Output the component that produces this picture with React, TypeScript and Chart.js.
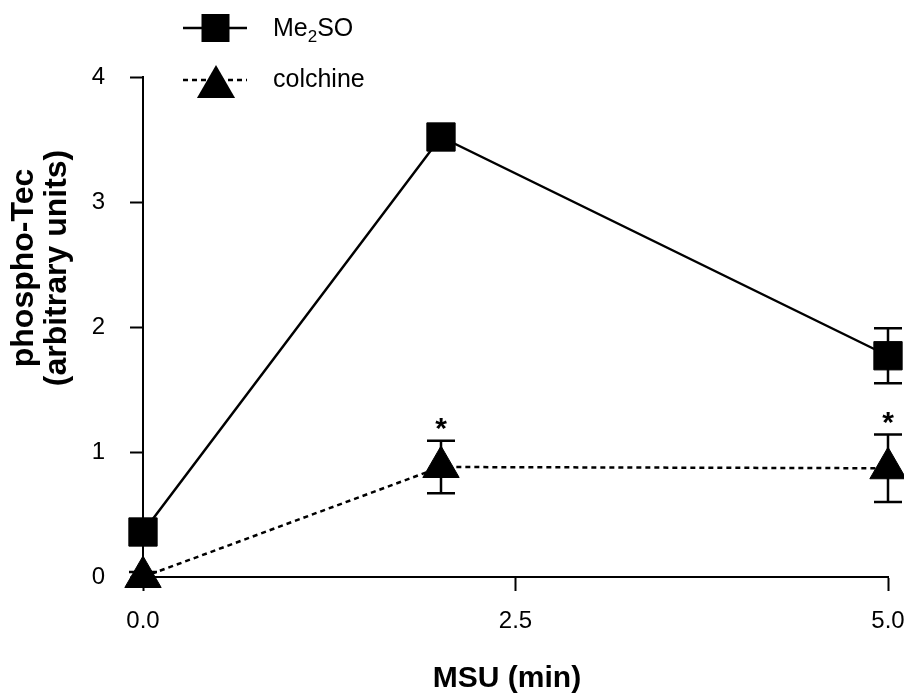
import React, { useEffect, useRef } from "react";
import { Chart, registerables } from "chart.js";

Chart.register(...registerables);

const xValues = [0, 2, 5];
const me2soValues = [0.36, 3.52, 1.77];
const me2soErrors = [0.06, 0.08, 0.22];
const colchineValues = [0.0, 0.88, 0.87];
const colchineErrors = [0.04, 0.21, 0.27];
const colchineSignificant = [false, true, true];
const xTicks = [0, 2.5, 5];
const yTicks = [0, 1, 2, 3, 4];
const seriesLabels = ["Me₂SO", "colchine"];
const yTitleLines = ["phospho-Tec", "(arbitrary units)"];
const xTitle = "MSU (min)";

const FONT = "'Liberation Sans', Arial, Helvetica, sans-serif";
const CANVAS_W = 910;
const CANVAS_H = 696;

const errorBarPlugin = {
  id: "errorBars",
  beforeDatasetsDraw(chart: any) {
    const { ctx, scales } = chart;
    const x = scales.x;
    const y = scales.y;
    const sets = [
      { values: me2soValues, errors: me2soErrors },
      { values: colchineValues, errors: colchineErrors },
    ];
    ctx.save();
    ctx.strokeStyle = "#000";
    ctx.lineWidth = 2.5;
    ctx.setLineDash([]);
    sets.forEach((s) => {
      s.values.forEach((v, i) => {
        const px = x.getPixelForValue(xValues[i]);
        const top = y.getPixelForValue(v + s.errors[i]);
        const bot = y.getPixelForValue(v - s.errors[i]);
        ctx.beginPath();
        ctx.moveTo(px, top);
        ctx.lineTo(px, bot);
        ctx.moveTo(px - 14, top);
        ctx.lineTo(px + 14, top);
        ctx.moveTo(px - 14, bot);
        ctx.lineTo(px + 14, bot);
        ctx.stroke();
      });
    });
    ctx.restore();
  },
  afterDraw(chart: any) {
    const { ctx, scales } = chart;
    const x = scales.x;
    const y = scales.y;
    ctx.save();
    // asterisks
    ctx.fillStyle = "#000";
    ctx.font = `bold 30px ${FONT}`;
    ctx.textAlign = "center";
    ctx.textBaseline = "alphabetic";
    colchineSignificant.forEach((sig, i) => {
      if (!sig) return;
      const px = x.getPixelForValue(xValues[i]);
      const top = y.getPixelForValue(colchineValues[i] + colchineErrors[i]);
      ctx.fillText("*", px, top - 3);
    });

    // y title
    ctx.save();
    ctx.translate(24, 268);
    ctx.rotate(-Math.PI / 2);
    ctx.font = `bold 32px ${FONT}`;
    ctx.textAlign = "center";
    ctx.textBaseline = "middle";
    yTitleLines.forEach((t, i) => ctx.fillText(t, 0, i * 33));
    ctx.restore();

    // x title
    ctx.font = `bold 30px ${FONT}`;
    ctx.textAlign = "center";
    ctx.textBaseline = "middle";
    ctx.fillText(xTitle, 507, 679);

    // legend
    ctx.strokeStyle = "#000";
    ctx.lineWidth = 2.5;
    // Me2SO
    ctx.setLineDash([]);
    ctx.beginPath();
    ctx.moveTo(183, 28);
    ctx.lineTo(247, 28);
    ctx.stroke();
    ctx.fillRect(215.5 - 14, 28 - 14, 28, 28);
    // colchine
    ctx.setLineDash([5, 4]);
    ctx.beginPath();
    ctx.moveTo(183, 80);
    ctx.lineTo(247, 80);
    ctx.stroke();
    ctx.setLineDash([]);
    const r = 22;
    const cx = 216;
    const cy = 87;
    ctx.beginPath();
    ctx.moveTo(cx, cy - r);
    ctx.lineTo(cx + r * Math.sin((2 * Math.PI) / 3), cy - r * Math.cos((2 * Math.PI) / 3));
    ctx.lineTo(cx + r * Math.sin((4 * Math.PI) / 3), cy - r * Math.cos((4 * Math.PI) / 3));
    ctx.closePath();
    ctx.fill();

    // legend text
    ctx.textAlign = "left";
    ctx.textBaseline = "middle";
    ctx.font = `25px ${FONT}`;
    const label0 = seriesLabels[0];
    const parts = label0.split("₂");
    let tx = 273;
    ctx.fillText(parts[0], tx, 29);
    tx += ctx.measureText(parts[0]).width;
    ctx.font = `17px ${FONT}`;
    ctx.fillText("2", tx, 37);
    tx += ctx.measureText("2").width;
    ctx.font = `25px ${FONT}`;
    ctx.fillText(parts[1] || "", tx, 29);
    ctx.fillText(seriesLabels[1], 273, 80);
    ctx.restore();
  },
};

export default function App() {
  const canvasRef = useRef<HTMLCanvasElement | null>(null);

  useEffect(() => {
    document.body.style.margin = "0";
    document.body.style.overflow = "hidden";
    document.documentElement.style.overflow = "hidden";
    const canvas = canvasRef.current;
    if (!canvas) return;
    const chart = new Chart(canvas, {
      type: "line",
      data: {
        datasets: [
          {
            label: seriesLabels[0],
            data: xValues.map((xv, i) => ({ x: xv, y: me2soValues[i] })),
            borderColor: "#000",
            backgroundColor: "#000",
            borderWidth: 2.5,
            pointStyle: "rect",
            pointRadius: 20,
            pointHoverRadius: 20,
            pointBorderWidth: 1,
            pointBackgroundColor: "#000",
            pointBorderColor: "#000",
            tension: 0,
            clip: false,
          } as any,
          {
            label: seriesLabels[1],
            data: xValues.map((xv, i) => ({ x: xv, y: colchineValues[i] })),
            borderColor: "#000",
            backgroundColor: "#000",
            borderWidth: 2.5,
            borderDash: [5, 4],
            pointStyle: "triangle",
            pointRadius: 21,
            pointHoverRadius: 21,
            pointBorderWidth: 1,
            pointBackgroundColor: "#000",
            pointBorderColor: "#000",
            tension: 0,
            clip: false,
          } as any,
        ],
      },
      options: {
        animation: false,
        responsive: false,
        maintainAspectRatio: false,
        events: [],
        layout: { padding: { top: 77, right: 0, left: 0, bottom: 0 } },
        plugins: {
          legend: { display: false },
          tooltip: { enabled: false },
        },
        scales: {
          x: {
            type: "linear",
            min: 0,
            max: 5,
            afterFit: (scale: any) => {
              scale.height = 119;
            },
            afterBuildTicks: (scale: any) => {
              scale.ticks = xTicks.map((v) => ({ value: v }));
            },
            ticks: {
              color: "#000",
              font: { family: FONT, size: 24, lineHeight: 2.5 },
              padding: 0,
              maxRotation: 0,
              callback: (v: any) => Number(v).toFixed(1),
            },
            grid: {
              display: true,
              drawOnChartArea: false,
              drawTicks: true,
              tickLength: 14,
              tickWidth: 2,
              tickColor: "#000",
            },
            border: { display: true, color: "#000", width: 2 },
            title: { display: false },
          },
          y: {
            type: "linear",
            min: 0,
            max: 4,
            afterFit: (scale: any) => {
              scale.width = 143;
            },
            afterBuildTicks: (scale: any) => {
              scale.ticks = yTicks.map((v) => ({ value: v }));
            },
            ticks: {
              color: "#000",
              font: { family: FONT, size: 24 },
              padding: 25,
              callback: (v: any) => String(v),
            },
            grid: {
              display: true,
              drawOnChartArea: false,
              drawTicks: true,
              tickLength: 13,
              tickWidth: 2,
              tickColor: "#000",
            },
            border: { display: true, color: "#000", width: 2 },
          },
        },
      } as any,
      plugins: [errorBarPlugin],
    });
    return () => chart.destroy();
  }, []);

  return (
    <div style={{ width: 904, height: 696, overflow: "hidden" }}>
      <canvas
        ref={canvasRef}
        width={CANVAS_W}
        height={CANVAS_H}
        style={{ display: "block", width: CANVAS_W, height: CANVAS_H }}
      />
    </div>
  );
}
